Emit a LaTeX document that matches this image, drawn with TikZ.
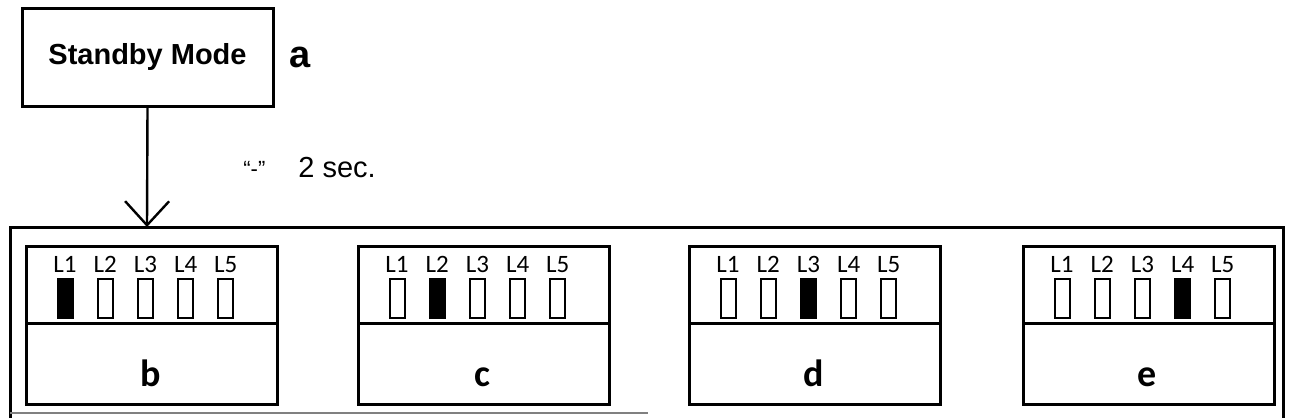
\documentclass[tikz,border=0pt]{standalone}
\usepackage{fontspec}
\setmainfont{Liberation Sans}
\newfontfamily\ledfont{Carlito}
\usetikzlibrary{arrows.meta, positioning}

\begin{document}
\begin{tikzpicture}[x=0.5pt, y=-0.5pt]

\tikzset{
	box/.style={draw, line width=1.5pt, inner sep=0pt},
	panel/.style={box, minimum width=125.5pt, minimum height=79pt, anchor=north west},
	led/.style={draw, line width=1pt, minimum width=7.5pt, minimum height=19.5pt, inner sep=0pt},
	ledlabel/.style={font=\ledfont\fontsize{12.5}{12.5}\selectfont, inner sep=0pt, anchor=base},
	tag/.style={font=\ledfont\bfseries\fontsize{19}{19}\selectfont, inner sep=0pt, anchor=base},
}

\useasboundingbox (0,0) rectangle (1290,418);

\node[box, minimum width=125.5pt, minimum height=49pt,
	font=\bfseries\fontsize{14.5}{15}\selectfont] (standby) at (147.5,57) {Standby Mode};
\node[font=\bfseries\fontsize{19}{19}\selectfont, anchor=base west, inner sep=0pt] (a) at (289,67) {a};

% outer frame
\coordinate (frame top) at (147,227);
\draw[line width=1.5pt] (10,418) -- (10,227) -- (1283,227) -- (1283,418);
\draw[gray, line width=0.8pt] (10,413) -- (648,413); % bottom edge

\draw[line width=1.2pt, -{Straight Barb[length=12pt, width=22pt, line width=1.2pt]}] (standby.south) -- (frame top);

\node[font=\fontsize{11}{11}\selectfont, anchor=base west, inner sep=0pt] (quote) at (243,176) {“-”};
\node[font=\fontsize{14.5}{15}\selectfont, anchor=base west, inner sep=0pt] (delay) at (298,177) {2 sec.};

\foreach \name/\x/\lit in {b/25/1, c/357/2, d/688/3, e/1022/4} {
	\node[panel] (panel \name) at (\x,245) {};
	\draw[line width=1.5pt] (\x,323) -- ++(251,0); % divider
	\node[tag] (tag \name) at (\x+125.5,386) {\name};
	\foreach \i in {1,...,5} {
		\ifnum\i=\lit \def\ledfill{black}\else \def\ledfill{white}\fi
		\node[ledlabel] (label \name\i) at (\x+40+40.2*\i-40.2,272) {L\i};
		\node[led, fill=\ledfill] (led \name\i) at (\x+40+40.2*\i-40.2,298) {};
	}
}

\end{tikzpicture}
\end{document}
